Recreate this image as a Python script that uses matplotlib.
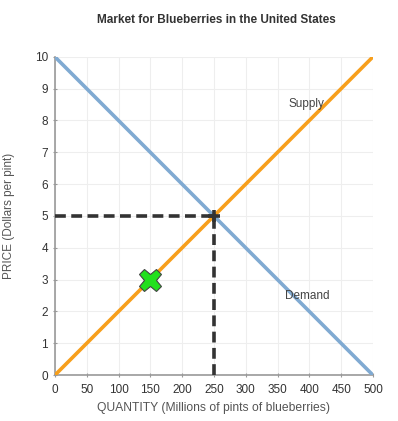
import matplotlib.pyplot as plt

plt.rcParams['font.family'] = ['Liberation Sans', 'DejaVu Sans']

# Curves
demand_q = [0, 500]
demand_p = [10, 0]
supply_q = [0, 500]
supply_p = [0, 10]

# Equilibrium and marked point
eq_q, eq_p = 250, 5
mark_q, mark_p = 150, 3

x_ticks = [0, 50, 100, 150, 200, 250, 300, 350, 400, 450, 500]
y_ticks = [0, 1, 2, 3, 4, 5, 6, 7, 8, 9, 10]

fig = plt.figure(figsize=(3.98, 4.21), dpi=100)
ax = fig.add_axes([0.138, 0.109, 0.799, 0.756])

ax.plot(demand_q, demand_p, color='#80aad2', lw=2.6, solid_capstyle='butt', zorder=3)
ax.plot(supply_q, supply_p, color='#f79f1c', lw=2.6, solid_capstyle='butt', zorder=3)

ax.plot([0, eq_q], [eq_p, eq_p], color='#333333', lw=2.6, ls=(0, (3, 1.5)), zorder=4)
ax.plot([eq_q, eq_q], [0, eq_p], color='#333333', lw=2.6, ls=(0, (3, 1.5)), zorder=4)
ax.plot([eq_q], [eq_p], marker='+', color='#333333', ms=9, mew=2.6, zorder=5)

ax.plot([mark_q], [mark_p], marker='X', color='#22e01e', mec='#444444', mew=0.8, ms=16, zorder=6)

ax.text(367, 8.52, 'Supply', fontsize=8.5, color='#444444', ha='left', va='center', zorder=5)
ax.text(361, 2.48, 'Demand', fontsize=8.5, color='#444444', ha='left', va='center', zorder=5)

ax.set_xlim(0, 500)
ax.set_ylim(0, 10)
ax.set_xticks(x_ticks)
ax.set_yticks(y_ticks)
ax.tick_params(labelsize=8.5, colors='#333333', length=3, width=0.8, direction='inout')
ax.tick_params(axis='x', pad=5)
ax.tick_params(axis='both', color='#999999')
ax.grid(True, color='#eeeeee', lw=0.8)
ax.set_axisbelow(True)
for s in ['top', 'right']:
    ax.spines[s].set_visible(False)
for s in ['left', 'bottom']:
    ax.spines[s].set_color('#999999')
    ax.spines[s].set_linewidth(1.2)

ax.set_xlabel('QUANTITY (Millions of pints of blueberries)', fontsize=8.7, color='#555555', labelpad=4)
ax.set_ylabel('PRICE (Dollars per pint)', fontsize=8.5, color='#555555', labelpad=14)
fig.text(0.543, 0.952, 'Market for Blueberries in the United States', fontsize=8.5,
         fontweight='bold', color='#333333', ha='center', va='center')

fig.savefig('out.png', dpi=100)
